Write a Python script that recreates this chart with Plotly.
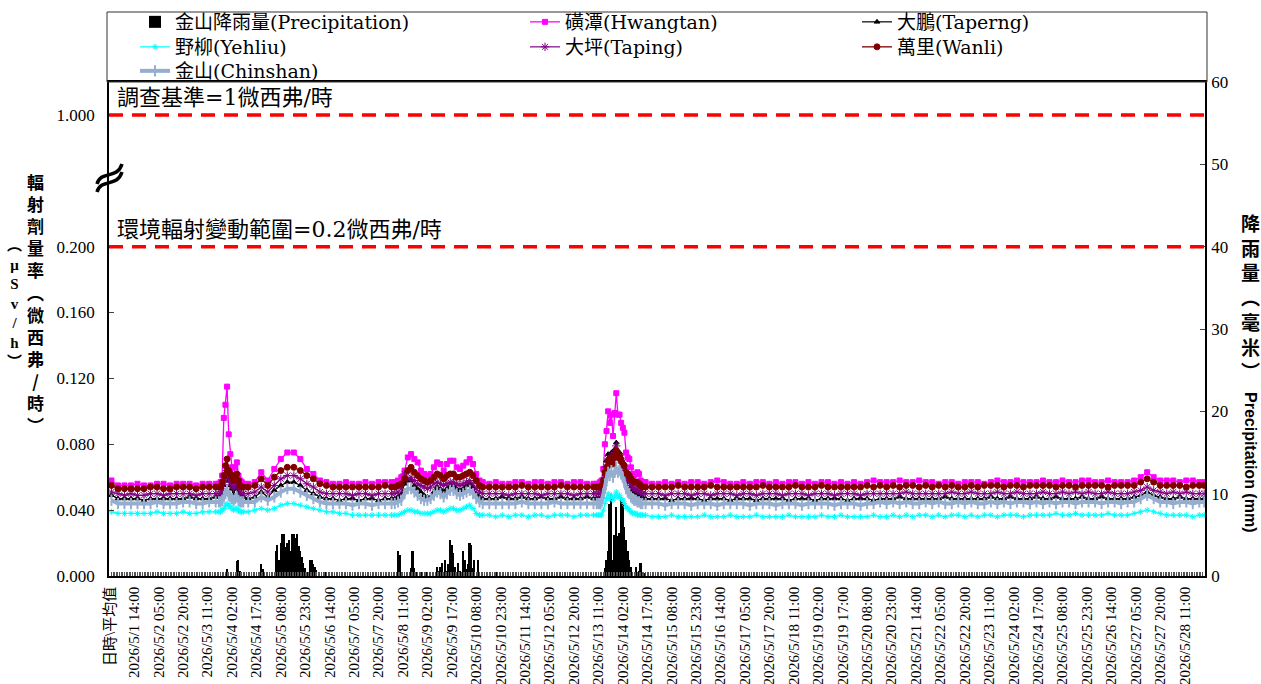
import plotly.graph_objects as go

# ---------------- data ----------------
days = list(range(1, 29))
categories = ["日時\\平均值"] + [f"2026/5/{d} {hh:02d}:00" for d in days for hh in range(24)]

# hours since 2026/5/1 00:00 at which station values were read
seg_A = list(range(0, 65, 4))
seg_B = list(range(66, 82))
seg_C1 = list(range(84, 169, 4))
seg_C2 = list(range(172, 229, 2))
seg_C3 = list(range(232, 297, 4))
seg_D = list(range(298, 327))
seg_E = list(range(328, 669, 4)) + [671]
sample_hours = seg_A + seg_B + seg_C1 + seg_C2 + seg_C3 + seg_D + seg_E

hwangtan = [
    0.058, 0.055, 0.055, 0.055, 0.056, 0.055, 0.055, 0.056, 0.056, 0.055, 0.056, 0.056, 0.056, 0.055, 0.056, 0.056, 0.056,
    0.056, 0.057, 0.061, 0.096, 0.104, 0.115, 0.086, 0.074, 0.066, 0.060, 0.066, 0.069, 0.061, 0.058, 0.057, 0.056,
    0.056, 0.057, 0.063, 0.058, 0.065, 0.071, 0.075, 0.075, 0.071, 0.065, 0.062, 0.058, 0.057, 0.056, 0.056, 0.057, 0.056, 0.056, 0.057, 0.056, 0.057, 0.057,
    0.057, 0.057, 0.058, 0.060, 0.064, 0.072, 0.074, 0.071, 0.069, 0.064, 0.062, 0.061, 0.062, 0.066, 0.069, 0.068, 0.064, 0.068, 0.070, 0.070, 0.066, 0.065, 0.067, 0.069, 0.071, 0.068, 0.062, 0.058, 0.057,
    0.056, 0.057, 0.056, 0.056, 0.057, 0.057, 0.056, 0.057, 0.057, 0.056, 0.057, 0.057, 0.056, 0.057, 0.057, 0.056, 0.056,
    0.056, 0.056, 0.057, 0.058, 0.065, 0.080, 0.088, 0.100, 0.093, 0.098, 0.085, 0.099, 0.111, 0.098, 0.098, 0.093, 0.090, 0.087, 0.075, 0.072, 0.071, 0.066, 0.062, 0.061, 0.062, 0.063, 0.062, 0.058, 0.057,
    0.057, 0.056,
    0.056, 0.057, 0.056, 0.057, 0.056, 0.057,
    0.057, 0.056, 0.057, 0.058, 0.057, 0.056,
    0.056, 0.057, 0.056, 0.057, 0.057, 0.056,
    0.057, 0.056, 0.057, 0.057, 0.056, 0.057,
    0.056, 0.057, 0.057, 0.056, 0.057, 0.056,
    0.057, 0.056, 0.057, 0.058, 0.057, 0.057,
    0.057, 0.058, 0.057, 0.057, 0.058, 0.057,
    0.057, 0.056, 0.057, 0.057, 0.056, 0.057,
    0.057, 0.057, 0.056, 0.057, 0.058, 0.057,
    0.057, 0.058, 0.057, 0.057, 0.057, 0.058,
    0.057, 0.057, 0.058, 0.057, 0.057, 0.058,
    0.058, 0.057, 0.057, 0.058, 0.057, 0.057,
    0.057, 0.058, 0.060, 0.063, 0.060, 0.058,
    0.058, 0.058, 0.057, 0.058, 0.058, 0.057,
    0.057,
]

taperng = [
    0.049, 0.047, 0.047, 0.047, 0.047, 0.046, 0.047, 0.047, 0.047, 0.047, 0.047, 0.047, 0.048, 0.047, 0.047, 0.047, 0.048,
    0.048, 0.048, 0.050, 0.055, 0.060, 0.064, 0.058, 0.055, 0.053, 0.050, 0.053, 0.054, 0.050, 0.049, 0.048, 0.048,
    0.047, 0.048, 0.051, 0.048, 0.052, 0.055, 0.057, 0.057, 0.055, 0.052, 0.050, 0.048, 0.047, 0.047, 0.046, 0.047, 0.047, 0.046, 0.047, 0.047, 0.046, 0.047,
    0.047, 0.047, 0.048, 0.050, 0.056, 0.058, 0.058, 0.055, 0.053, 0.051, 0.049, 0.048, 0.048, 0.051, 0.054, 0.053, 0.051, 0.053, 0.055, 0.055, 0.053, 0.052, 0.053, 0.055, 0.056, 0.054, 0.050, 0.048, 0.047,
    0.047, 0.047, 0.048, 0.047, 0.047, 0.048, 0.047, 0.047, 0.048, 0.047, 0.047, 0.048, 0.047, 0.047, 0.047, 0.048, 0.047,
    0.047, 0.047, 0.047, 0.048, 0.053, 0.062, 0.070, 0.074, 0.070, 0.075, 0.071, 0.077, 0.081, 0.076, 0.075, 0.072, 0.069, 0.066, 0.061, 0.058, 0.057, 0.054, 0.052, 0.051, 0.051, 0.050, 0.049, 0.048, 0.048,
    0.047, 0.047,
    0.047, 0.047, 0.046, 0.047, 0.047, 0.047,
    0.047, 0.046, 0.047, 0.047, 0.047, 0.046,
    0.047, 0.047, 0.047, 0.046, 0.047, 0.047,
    0.047, 0.047, 0.046, 0.047, 0.047, 0.047,
    0.046, 0.047, 0.047, 0.047, 0.047, 0.046,
    0.047, 0.047, 0.047, 0.046, 0.047, 0.047,
    0.047, 0.048, 0.047, 0.047, 0.047, 0.047,
    0.047, 0.047, 0.048, 0.047, 0.047, 0.047,
    0.047, 0.047, 0.047, 0.048, 0.047, 0.047,
    0.048, 0.047, 0.047, 0.047, 0.048, 0.047,
    0.047, 0.048, 0.047, 0.047, 0.047, 0.048,
    0.047, 0.047, 0.048, 0.047, 0.047, 0.047,
    0.047, 0.048, 0.049, 0.051, 0.049, 0.048,
    0.047, 0.047, 0.048, 0.047, 0.047, 0.047,
    0.047,
]

yehliu = [
    0.039, 0.038, 0.038, 0.038, 0.038, 0.038, 0.038, 0.039, 0.038, 0.038, 0.038, 0.039, 0.038, 0.038, 0.039, 0.039, 0.039,
    0.039, 0.039, 0.040, 0.041, 0.043, 0.044, 0.043, 0.042, 0.041, 0.040, 0.041, 0.041, 0.040, 0.039, 0.039, 0.039,
    0.039, 0.040, 0.041, 0.040, 0.041, 0.043, 0.044, 0.044, 0.043, 0.042, 0.041, 0.040, 0.039, 0.039, 0.038, 0.038, 0.037, 0.037, 0.037, 0.037, 0.037, 0.037,
    0.037, 0.037, 0.037, 0.038, 0.039, 0.040, 0.040, 0.039, 0.039, 0.038, 0.038, 0.038, 0.038, 0.039, 0.040, 0.040, 0.039, 0.040, 0.041, 0.041, 0.040, 0.040, 0.041, 0.042, 0.043, 0.041, 0.038, 0.037, 0.037,
    0.037, 0.036, 0.037, 0.036, 0.037, 0.037, 0.036, 0.037, 0.037, 0.036, 0.037, 0.037, 0.037, 0.036, 0.037, 0.037, 0.037,
    0.037, 0.037, 0.037, 0.037, 0.040, 0.044, 0.047, 0.050, 0.047, 0.049, 0.046, 0.048, 0.051, 0.048, 0.049, 0.047, 0.046, 0.044, 0.042, 0.041, 0.040, 0.039, 0.038, 0.038, 0.038, 0.037, 0.037, 0.037, 0.037,
    0.037, 0.036,
    0.036, 0.036, 0.037, 0.036, 0.036, 0.036,
    0.036, 0.037, 0.036, 0.036, 0.036, 0.037,
    0.036, 0.036, 0.036, 0.037, 0.036, 0.036,
    0.036, 0.036, 0.037, 0.036, 0.036, 0.036,
    0.036, 0.037, 0.036, 0.036, 0.037, 0.036,
    0.036, 0.036, 0.036, 0.037, 0.036, 0.036,
    0.037, 0.036, 0.037, 0.036, 0.037, 0.037,
    0.036, 0.037, 0.036, 0.037, 0.037, 0.036,
    0.037, 0.036, 0.037, 0.037, 0.036, 0.037,
    0.037, 0.037, 0.036, 0.037, 0.037, 0.037,
    0.037, 0.038, 0.037, 0.037, 0.038, 0.037,
    0.037, 0.037, 0.037, 0.038, 0.037, 0.037,
    0.037, 0.038, 0.039, 0.040, 0.039, 0.038,
    0.037, 0.037, 0.037, 0.037, 0.036, 0.037,
    0.037,
]

taping = [
    0.051, 0.050, 0.049, 0.050, 0.049, 0.049, 0.050, 0.050, 0.049, 0.050, 0.050, 0.050, 0.050, 0.049, 0.050, 0.050, 0.050,
    0.050, 0.050, 0.053, 0.057, 0.061, 0.064, 0.059, 0.057, 0.055, 0.053, 0.056, 0.057, 0.054, 0.051, 0.050, 0.050,
    0.050, 0.051, 0.054, 0.051, 0.055, 0.059, 0.061, 0.061, 0.059, 0.056, 0.054, 0.051, 0.050, 0.050, 0.050, 0.050, 0.049, 0.050, 0.050, 0.049, 0.050, 0.050,
    0.050, 0.050, 0.051, 0.053, 0.062, 0.059, 0.060, 0.058, 0.056, 0.055, 0.054, 0.053, 0.054, 0.056, 0.057, 0.056, 0.055, 0.056, 0.057, 0.057, 0.056, 0.055, 0.056, 0.057, 0.058, 0.056, 0.053, 0.051, 0.050,
    0.050, 0.050, 0.050, 0.049, 0.050, 0.050, 0.050, 0.050, 0.049, 0.050, 0.050, 0.050, 0.050, 0.049, 0.050, 0.050, 0.050,
    0.050, 0.050, 0.050, 0.051, 0.055, 0.060, 0.066, 0.071, 0.068, 0.073, 0.069, 0.075, 0.079, 0.074, 0.073, 0.070, 0.067, 0.064, 0.060, 0.058, 0.057, 0.055, 0.054, 0.053, 0.053, 0.052, 0.052, 0.051, 0.050,
    0.050, 0.050,
    0.050, 0.049, 0.050, 0.050, 0.050, 0.049,
    0.050, 0.050, 0.049, 0.050, 0.050, 0.050,
    0.049, 0.050, 0.050, 0.049, 0.050, 0.050,
    0.050, 0.049, 0.050, 0.050, 0.050, 0.049,
    0.050, 0.050, 0.050, 0.049, 0.050, 0.050,
    0.050, 0.049, 0.050, 0.050, 0.050, 0.050,
    0.050, 0.050, 0.051, 0.050, 0.050, 0.050,
    0.050, 0.050, 0.050, 0.051, 0.050, 0.050,
    0.051, 0.050, 0.050, 0.050, 0.051, 0.050,
    0.050, 0.051, 0.050, 0.050, 0.050, 0.051,
    0.050, 0.050, 0.051, 0.050, 0.051, 0.050,
    0.051, 0.050, 0.050, 0.051, 0.050, 0.050,
    0.050, 0.051, 0.052, 0.054, 0.052, 0.051,
    0.050, 0.051, 0.050, 0.051, 0.050, 0.050,
    0.050,
]

wanli = [
    0.055, 0.053, 0.053, 0.053, 0.053, 0.053, 0.054, 0.054, 0.053, 0.053, 0.054, 0.054, 0.054, 0.053, 0.054, 0.054, 0.054,
    0.054, 0.054, 0.057, 0.061, 0.067, 0.071, 0.064, 0.062, 0.060, 0.058, 0.061, 0.062, 0.058, 0.055, 0.054, 0.054,
    0.054, 0.055, 0.059, 0.055, 0.060, 0.064, 0.066, 0.066, 0.064, 0.061, 0.059, 0.056, 0.055, 0.054, 0.054, 0.054, 0.054, 0.054, 0.054, 0.054, 0.054, 0.055,
    0.054, 0.054, 0.055, 0.056, 0.059, 0.064, 0.066, 0.063, 0.061, 0.059, 0.058, 0.057, 0.058, 0.060, 0.062, 0.061, 0.059, 0.061, 0.062, 0.062, 0.060, 0.060, 0.061, 0.062, 0.063, 0.061, 0.058, 0.055, 0.054,
    0.054, 0.054, 0.054, 0.054, 0.054, 0.055, 0.054, 0.054, 0.054, 0.054, 0.054, 0.055, 0.054, 0.054, 0.054, 0.054, 0.054,
    0.054, 0.054, 0.054, 0.055, 0.058, 0.063, 0.066, 0.070, 0.068, 0.072, 0.068, 0.073, 0.076, 0.072, 0.073, 0.070, 0.068, 0.067, 0.063, 0.062, 0.061, 0.059, 0.058, 0.057, 0.057, 0.057, 0.056, 0.055, 0.054,
    0.054, 0.054,
    0.054, 0.054, 0.054, 0.055, 0.054, 0.054,
    0.054, 0.054, 0.055, 0.054, 0.054, 0.054,
    0.054, 0.054, 0.054, 0.054, 0.055, 0.054,
    0.054, 0.054, 0.054, 0.055, 0.054, 0.054,
    0.054, 0.055, 0.054, 0.054, 0.054, 0.054,
    0.054, 0.054, 0.055, 0.054, 0.055, 0.054,
    0.055, 0.054, 0.055, 0.055, 0.054, 0.055,
    0.054, 0.055, 0.054, 0.055, 0.054, 0.054,
    0.055, 0.054, 0.055, 0.055, 0.055, 0.054,
    0.055, 0.055, 0.054, 0.055, 0.055, 0.055,
    0.055, 0.054, 0.055, 0.055, 0.054, 0.055,
    0.055, 0.055, 0.055, 0.054, 0.055, 0.055,
    0.055, 0.055, 0.057, 0.059, 0.057, 0.055,
    0.055, 0.055, 0.055, 0.054, 0.055, 0.055,
    0.055,
]

chinshan = [
    0.046, 0.044, 0.044, 0.044, 0.044, 0.044, 0.044, 0.045, 0.044, 0.044, 0.044, 0.045, 0.045, 0.044, 0.044, 0.045, 0.045,
    0.045, 0.045, 0.046, 0.048, 0.050, 0.052, 0.049, 0.048, 0.047, 0.046, 0.047, 0.048, 0.046, 0.045, 0.045, 0.045,
    0.045, 0.045, 0.048, 0.046, 0.048, 0.051, 0.053, 0.053, 0.051, 0.049, 0.047, 0.045, 0.044, 0.044, 0.044, 0.044, 0.043, 0.044, 0.044, 0.043, 0.044, 0.044,
    0.044, 0.044, 0.045, 0.046, 0.050, 0.053, 0.053, 0.051, 0.049, 0.047, 0.046, 0.046, 0.047, 0.049, 0.051, 0.050, 0.048, 0.050, 0.052, 0.052, 0.050, 0.049, 0.050, 0.051, 0.052, 0.050, 0.047, 0.045, 0.044,
    0.044, 0.044, 0.044, 0.044, 0.044, 0.045, 0.044, 0.044, 0.044, 0.044, 0.045, 0.044, 0.044, 0.044, 0.044, 0.044, 0.044,
    0.044, 0.044, 0.044, 0.045, 0.050, 0.056, 0.060, 0.063, 0.061, 0.064, 0.060, 0.063, 0.066, 0.063, 0.064, 0.062, 0.060, 0.057, 0.053, 0.051, 0.050, 0.048, 0.047, 0.046, 0.046, 0.045, 0.045, 0.044, 0.044,
    0.044, 0.044,
    0.044, 0.043, 0.044, 0.044, 0.044, 0.043,
    0.044, 0.044, 0.044, 0.043, 0.044, 0.044,
    0.044, 0.044, 0.043, 0.044, 0.044, 0.044,
    0.043, 0.044, 0.044, 0.044, 0.043, 0.044,
    0.044, 0.044, 0.044, 0.043, 0.044, 0.044,
    0.044, 0.043, 0.044, 0.044, 0.045, 0.044,
    0.045, 0.044, 0.045, 0.044, 0.044, 0.045,
    0.044, 0.045, 0.044, 0.044, 0.045, 0.044,
    0.045, 0.044, 0.044, 0.045, 0.044, 0.045,
    0.044, 0.045, 0.045, 0.044, 0.045, 0.044,
    0.045, 0.044, 0.045, 0.045, 0.044, 0.045,
    0.045, 0.045, 0.044, 0.045, 0.045, 0.044,
    0.045, 0.045, 0.047, 0.049, 0.047, 0.045,
    0.045, 0.044, 0.045, 0.045, 0.044, 0.045,
    0.045,
]

rain_hours = [71, 77, 78, 79, 92, 93,
              101, 102, 103, 104, 105, 106, 107, 108, 109, 110, 111, 112, 113, 114, 115, 116, 117, 118, 119, 120,
              121, 122, 123, 124, 125, 126, 131,
              176, 177, 184, 185, 186, 187, 190, 194, 200, 201, 202, 203, 204, 205, 206, 207, 208, 209, 210, 211,
              212, 213, 214, 216, 217, 218, 219, 220, 221, 222, 223, 225, 236,
              303, 304, 305, 306, 307, 308, 309, 310, 311, 312, 313, 314, 315, 316, 317, 318, 319, 320, 322, 324,
              325, 327]
rain_mm = [0.9, 1.8, 2.0, 0.6, 1.4, 0.8,
           3.0, 3.8, 2.0, 4.0, 5.1, 5.1, 3.5, 4.0, 4.4, 3.0, 5.1, 5.1, 4.6, 5.1, 3.6, 3.0, 2.3, 1.6, 1.0, 0.5,
           0.5, 1.9, 1.9, 1.5, 1.1, 0.7, 0.5,
           3.0, 2.6, 1.0, 3.0, 1.0, 0.5, 0.5, 0.5, 1.1, 0.6, 1.1, 1.6, 0.5, 1.9, 0.6, 1.5, 4.4, 3.8, 2.8, 1.1,
           0.5, 1.6, 0.6, 3.0, 2.0, 0.8, 1.5, 4.0, 3.8, 1.0, 1.9, 1.9, 0.5,
           1.0, 1.9, 3.0, 8.8, 10.0, 1.9, 5.0, 8.4, 4.8, 5.2, 9.6, 9.0, 6.0, 4.4, 3.0, 1.9, 1.1, 0.4, 1.1, 0.6,
           1.6, 0.4]

left_tickvals = [0, 0.04, 0.08, 0.12, 0.16, 0.2, 0.28]
left_ticktext = ["0.000", "0.040", "0.080", "0.120", "0.160", "0.200", "1.000"]
right_tickvals = [0, 10, 20, 30, 40, 50, 60]
limit_values = [0.2, 0.28]
limit_texts = ["環境輻射變動範圍=0.2微西弗/時", "調查基準=1微西弗/時"]

for name, s in [("hwangtan", hwangtan), ("taperng", taperng), ("yehliu", yehliu),
                ("taping", taping), ("wanli", wanli), ("chinshan", chinshan)]:
    assert len(s) == len(sample_hours), (name, len(s), len(sample_hours))
assert len(rain_hours) == len(rain_mm)

# ---------------- figure ----------------
W, H = 1261, 684
L, R, T, B = 109, 56, 82, 108
PW, PH = W - L - R, H - T - B

def px(xp):
    return (xp - L) / PW

def py(yp):
    return (H - B - yp) / PH

SERIF = "DejaVu Serif, Noto Sans CJK TC, serif"
TICKF = "Liberation Serif, Noto Sans CJK TC, serif"
CJK = "Noto Sans CJK TC, sans-serif"

xs = [categories[h + 1] for h in sample_hours]

# legend slots: (column left x, row top y) in page pixels
col_x = [135, 525, 857]
row_top = [3, 28, 52]

fig = go.Figure()
fig.add_trace(go.Bar(x=[categories[h + 1] for h in rain_hours], y=rain_mm,
                     name="金山降雨量(Precipitation)", marker=dict(color="black", line=dict(width=0)),
                     yaxis="y", legend="legend"))

station_styles = [
    ("磺潭(Hwangtan)", hwangtan, "#FF00FF", "square", 5, 1.3, "legend2"),
    ("大鵬(Taperng)", taperng, "#000000", "triangle-up", 5, 1.2, "legend3"),
    ("野柳(Yehliu)", yehliu, "#00FFFF", "asterisk-open", 5, 1.2, "legend4"),
    ("大坪(Taping)", taping, "#800080", "asterisk-open", 7, 1.2, "legend5"),
    ("萬里(Wanli)", wanli, "#800000", "circle", 6, 1.3, "legend6"),
]
for name, vals, color, sym, size, lw, lg in station_styles:
    fig.add_trace(go.Scatter(x=xs, y=vals, name=name, mode="lines+markers", yaxis="y2", legend=lg,
                             line=dict(color=color, width=lw),
                             marker=dict(symbol=sym, size=size, color=color,
                                         line=dict(color=color, width=1))))
fig.add_trace(go.Scatter(x=xs, y=chinshan, name="金山(Chinshan)", mode="lines+markers", yaxis="y2",
                         legend="legend7",
                         line=dict(color="#95AECF", width=4),
                         marker=dict(symbol="line-ns-open", size=8, color="#95AECF",
                                     line=dict(color="#95AECF", width=2))))

tick_text = [c if i % 15 == 0 else "" for i, c in enumerate(categories)]

shapes = []
for v in limit_values:
    shapes.append(dict(type="line", xref="paper", yref="y2", x0=0, x1=1, y0=v, y1=v,
                       line=dict(color="#FF0000", width=3.5, dash="14px,9px")))
# legend frame
shapes.append(dict(type="rect", xref="paper", yref="paper", x0=px(107), x1=px(1207), y0=py(82), y1=py(12),
                   line=dict(color="#333333", width=1), fillcolor="rgba(0,0,0,0)"))
# axis break mark
for dy in (0, 8):
    path = (f"M {px(97)},{py(184 + dy)} C {px(101)},{py(170 + dy)} {px(117)},{py(180 + dy)} "
            f"{px(122)},{py(164 + dy)}")
    shapes.append(dict(type="path", xref="paper", yref="paper", path=path,
                       line=dict(color="black", width=3.5)))

annotations = []
for v, t in zip(limit_values, limit_texts):
    annotations.append(dict(x=px(115), y=v, xref="paper", yref="y2", text=t, showarrow=False,
                            xanchor="left", yanchor="bottom", yshift=3,
                            font=dict(family=SERIF, size=22, color="black")))

def vert(s):
    return "<br>".join(list(s))

annotations += [
    dict(x=px(35), y=py(303), xref="paper", yref="paper", text="<b>" + vert("輻射劑量率︵微西弗/時︶") + "</b>",
         showarrow=False, xanchor="center", yanchor="middle",
         font=dict(family=CJK, size=17, color="black"), align="center"),
    dict(x=px(14), y=py(303), xref="paper", yref="paper", text="<b>" + vert("︵μSv/h︶") + "</b>",
         showarrow=False, xanchor="center", yanchor="middle",
         font=dict(family=TICKF, size=15, color="black"), align="center"),
    dict(x=px(1250), y=py(296), xref="paper", yref="paper", text="<b>" + vert("降雨量︵毫米︶") + "</b>",
         showarrow=False, xanchor="center", yanchor="middle",
         font=dict(family=CJK, size=19, color="black"), align="center"),
    dict(x=px(1250), y=py(462), xref="paper", yref="paper", text="<b>Precipitation (mm)</b>",
         showarrow=False, textangle=90, xanchor="center", yanchor="middle",
         font=dict(family="Liberation Sans, Arial, sans-serif", size=16, color="black")),
]

legend_common = dict(xanchor="left", yanchor="top", bgcolor="rgba(0,0,0,0)", borderwidth=0,
                     orientation="v", font=dict(family=SERIF, size=19, color="black"),
                     itemsizing="trace", tracegroupgap=0)
legend_slots = {
    "legend": (0, 0), "legend2": (1, 0), "legend3": (2, 0),
    "legend4": (0, 1), "legend5": (1, 1), "legend6": (2, 1),
    "legend7": (0, 2),
}
legend_layout = {k: dict(x=px(col_x[c]), y=py(row_top[r]), **legend_common)
                 for k, (c, r) in legend_slots.items()}

fig.update_layout(
    width=W, height=H,
    margin=dict(l=L, r=R, t=T, b=B, autoexpand=False),
    paper_bgcolor="white", plot_bgcolor="white",
    bargap=0,
    showlegend=True,
    xaxis=dict(type="category", categoryorder="array", categoryarray=categories,
               range=[-0.5, len(categories) - 0.5], tickmode="array", tickvals=categories,
               ticktext=tick_text, tickangle=-90, ticks="inside", ticklen=4, tickwidth=1,
               tickcolor="#555555", showline=True, linecolor="black", linewidth=1.5, mirror=True,
               showgrid=False, zeroline=False, ticklabelstandoff=3,
               tickfont=dict(family=TICKF, size=15, color="black")),
    yaxis=dict(range=[0, 60], side="right", tickmode="array", tickvals=right_tickvals,
               ticks="inside", ticklen=5, showline=True, linecolor="black", linewidth=1.5,
               showgrid=False, zeroline=False, ticklabelstandoff=1,
               tickfont=dict(family=TICKF, size=17, color="black")),
    yaxis2=dict(range=[0, 0.3], side="left", overlaying="y", tickmode="array",
                tickvals=left_tickvals, ticktext=left_ticktext, ticks="inside", ticklen=5,
                showline=True, linecolor="black", linewidth=1.5, showgrid=False, zeroline=False,
                ticklabelstandoff=9, tickfont=dict(family=TICKF, size=17, color="black")),
    shapes=shapes,
    annotations=annotations,
    **legend_layout,
)

fig.write_html("out.html", config={"displayModeBar": False},
               post_script="document.body.style.margin='0px';")
